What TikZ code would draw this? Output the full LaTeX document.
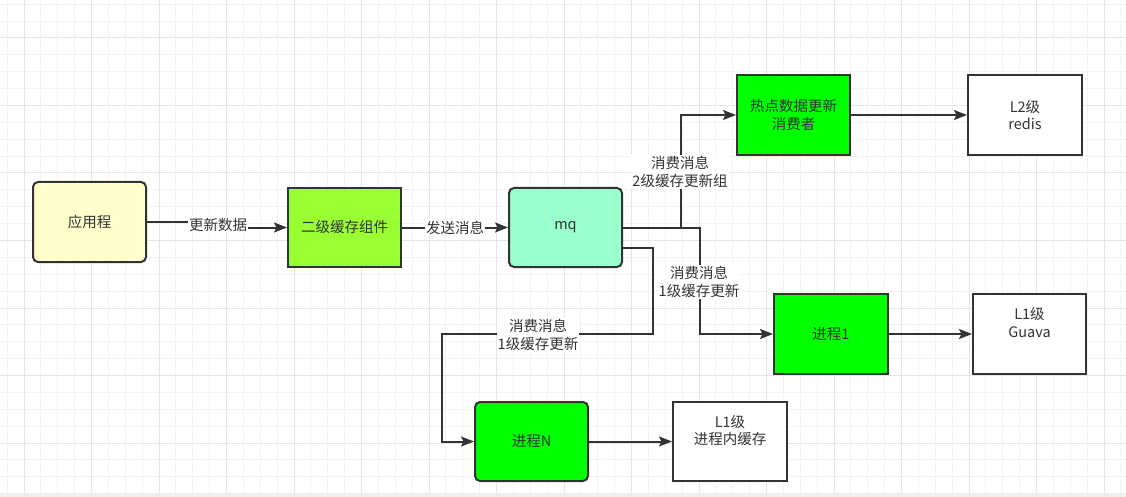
\documentclass[tikz,border=0pt]{standalone}
\usepackage{fontspec}
\setmainfont{Noto Sans CJK SC}
\usetikzlibrary{arrows.meta,calc}
\definecolor{ink}{HTML}{333333}
\definecolor{gridminor}{HTML}{F3F3F3}
\definecolor{gridmajor}{HTML}{E5E5E5}
\definecolor{bottomband}{HTML}{EFEFEF}
\definecolor{appfill}{HTML}{FFFFCC}
\definecolor{limefill}{HTML}{99FF33}
\definecolor{mintfill}{HTML}{99FFCC}
\definecolor{greenfill}{HTML}{00FF00}
\begin{document}
\begin{tikzpicture}[x=1pt,y=-1pt,
  box/.style={draw=ink, line width=2pt, minimum width=113pt, minimum height=79pt,
    inner sep=0pt, align=center, font=\fontsize{14.5}{17.5}\selectfont, text=ink},
  roundbox/.style={box, rounded corners=5pt},
  conn/.style={draw=ink, line width=2pt, -{Stealth[length=13pt,width=10pt,inset=2.5pt]}},
  lbl/.style={fill=white, inner sep=1pt, align=center, text=ink,
    font=\fontsize{14.5}{17.5}\selectfont}]
\useasboundingbox (0,0) rectangle (1126,497);
\fill[white] (0,0) rectangle (1126,497);
% grid
\foreach \k in {-1,...,65}{
  \pgfmathsetmacro\xx{24+16.875*\k}
  \draw[gridminor, line width=1pt] (\xx,0) -- (\xx,497);
}
\foreach \k in {-2,...,27}{
  \pgfmathsetmacro\yy{38+16.875*\k}
  \draw[gridminor, line width=1pt] (0,\yy) -- (1126,\yy);
}
\foreach \k in {0,...,16}{
  \pgfmathsetmacro\xx{24+67.5*\k}
  \draw[gridmajor, line width=1pt] (\xx,0) -- (\xx,497);
}
\foreach \k in {0,...,6}{
  \pgfmathsetmacro\yy{38+67.5*\k}
  \draw[gridmajor, line width=1pt] (0,\yy) -- (1126,\yy);
}
\fill[bottomband] (0,492.5) rectangle (1126,497);

% nodes
\node[roundbox, fill=appfill, minimum height=80pt] (app) at (89.5,222) {应用程};
\node[box, fill=limefill] (l2c) at (344.5,227.5) {二级缓存组件};
\node[roundbox, fill=mintfill] (mq) at (565.5,227.5) {mq};
\node[box, fill=greenfill, minimum height=80pt] (hot) at (793.5,115) {热点数据更新\\消费者};
\node[box, fill=white, minimum width=114pt, minimum height=80pt] (redis) at (1025,115) {L2级\\redis};
\node[box, fill=greenfill, minimum width=114pt, minimum height=80pt] (p1) at (831,334) {进程1};
\node[box, fill=white, minimum height=80pt] (guava) at (1029.5,334) {L1级\\Guava\\\strut};
\node[roundbox, fill=greenfill] (pN) at (531.5,441.5) {进程N};
\node[box, fill=white, minimum width=114pt] (local) at (730,441.5) {L1级\\进程内缓存\\\strut};

% connectors
\draw[conn] (app.east) -- ++(72,0) |- (l2c.west);
\node[lbl] (t1) at (218,224.5) {更新数据};
\draw[conn] (l2c.east) -- (mq.west) node[lbl, midway] (t2) {发送消息};
\draw[conn] (mq.east) -- ++(58,0) |- (hot.west);
\node[lbl] (t3) at (680,172) {消费消息\\2级缓存更新组};
\draw[conn] (mq.east) -- ++(77,0) |- (p1.west);
\node[lbl] (t4) at (699,282) {消费消息\\1级缓存更新};
\coordinate (mqN) at ($(mq.east)+(0,20)$);
\draw[conn] (mqN) -- ++(30,0) -- ++(0,86.5) -- ++(-211,0) |- (pN.west);
\node[lbl] (t5) at (538,335) {消费消息\\1级缓存更新};
\draw[conn] (hot.east) -- (redis.west);
\draw[conn] (p1.east) -- (guava.west);
\draw[conn] (pN.east) -- (local.west);
\end{tikzpicture}
\end{document}
